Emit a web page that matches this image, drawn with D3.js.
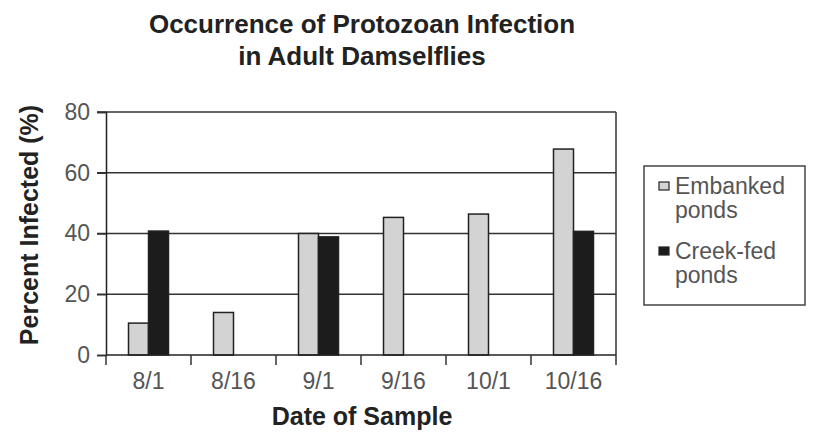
<!DOCTYPE html>
<html>
<head>
<meta charset="utf-8">
<script src="https://cdn.jsdelivr.net/npm/d3@7"></script>
<style>
  body { margin: 0; background: #fff; }
  svg text { font-family: "Liberation Sans", Arial, Helvetica, sans-serif; }
</style>
</head>
<body>
<div id="chart"></div>
<script>
'use strict';

// data
const dates = ['8/1', '8/16', '9/1', '9/16', '10/1', '10/16']
const embanked = [10.5, 14, 40, 45.3, 46.4, 67.8]
const creek_fed = [40.8, null, 38.9, null, null, 40.7]
const y_ticks = [0, 20, 40, 60, 80]
const series_names = ['Embanked ponds', 'Creek-fed ponds']

const dimensions = {
  width: 815,
  height: 440,
  margin: { top: 112, bottom: 85, left: 106, right: 199 }
}
dimensions.ctrWidth = dimensions.width - dimensions.margin.left - dimensions.margin.right
dimensions.ctrHeight = dimensions.height - dimensions.margin.top - dimensions.margin.bottom

const svg = d3.select('#chart')
  .append('svg')
  .attr('width', dimensions.width)
  .attr('height', dimensions.height)

// title
svg.append('text')
  .attr('x', 362)
  .attr('y', 33)
  .attr('text-anchor', 'middle')
  .style('font-weight', 'bold')
  .style('font-size', '26px')
  .attr('fill', '#222')
  .text('Occurrence of Protozoan Infection')
svg.append('text')
  .attr('x', 362)
  .attr('y', 65)
  .attr('text-anchor', 'middle')
  .style('font-weight', 'bold')
  .style('font-size', '26px')
  .attr('fill', '#222')
  .text('in Adult Damselflies')

const ctr = svg.append('g')
  .attr('transform', `translate(${dimensions.margin.left}, ${dimensions.margin.top})`)

// scales
const xScale = d3.scaleBand()
  .domain(dates)
  .range([0, dimensions.ctrWidth])
const yScale = d3.scaleLinear()
  .domain([0, 80])
  .range([dimensions.ctrHeight, 0])
const barW = 20
const subScale = d3.scaleBand()
  .domain(['emb', 'creek'])
  .range([xScale.bandwidth() / 2 - barW, xScale.bandwidth() / 2 + barW])

// gridlines + y ticks (ticks stick out left of the axis)
ctr.append('g')
  .selectAll('line')
  .data(y_ticks.filter(d => d > 0))
  .join('line')
  .attr('x1', -9)
  .attr('x2', dimensions.ctrWidth)
  .attr('y1', d => yScale(d))
  .attr('y2', d => yScale(d))
  .attr('stroke', '#333')
  .attr('stroke-width', 1.5)

// bars
const rows = dates.map((d, i) => ({ date: d, emb: embanked[i], creek: creek_fed[i] }))
const groups = ctr.append('g')
  .selectAll('g')
  .data(rows)
  .join('g')
  .attr('transform', d => `translate(${xScale(d.date)}, 0)`)

groups.selectAll('rect')
  .data(d => [{ key: 'emb', v: d.emb }, { key: 'creek', v: d.creek }].filter(e => e.v !== null))
  .join('rect')
  .attr('x', d => subScale(d.key))
  .attr('y', d => yScale(d.v))
  .attr('width', subScale.bandwidth())
  .attr('height', d => dimensions.ctrHeight - yScale(d.v))
  .attr('fill', d => d.key === 'emb' ? '#d3d3d3' : '#1c1c1c')
  .attr('stroke', '#222')
  .attr('stroke-width', 1.5)

// y axis
const yAxis = d3.axisLeft(yScale)
  .tickValues(y_ticks)
  .tickSize(9)
  .tickPadding(7)
const yAxisGroup = ctr.append('g').call(yAxis)
yAxisGroup.select('.domain').attr('stroke', '#222').attr('stroke-width', 1.5)
yAxisGroup.selectAll('.tick line').attr('stroke', '#333').attr('stroke-width', 1.5)
yAxisGroup.selectAll('.tick text')
  .style('font-size', '23px')
  .style('font-family', '"Liberation Sans", Arial, sans-serif')
  .attr('fill', '#555')

// x axis: ticks at band edges, labels at centers
const xAxisGroup = ctr.append('g')
  .attr('transform', `translate(0, ${dimensions.ctrHeight})`)
xAxisGroup.append('line')
  .attr('x1', 0)
  .attr('x2', dimensions.ctrWidth)
  .attr('stroke', '#222')
  .attr('stroke-width', 1.5)
xAxisGroup.selectAll('.edge')
  .data(dates.concat(['end']))
  .join('line')
  .attr('class', 'edge')
  .attr('x1', (d, i) => i < dates.length ? xScale(d) : dimensions.ctrWidth)
  .attr('x2', (d, i) => i < dates.length ? xScale(d) : dimensions.ctrWidth)
  .attr('y1', 0)
  .attr('y2', 10)
  .attr('stroke', '#333')
  .attr('stroke-width', 1.5)
xAxisGroup.selectAll('.lbl')
  .data(dates)
  .join('text')
  .attr('class', 'lbl')
  .attr('x', d => xScale(d) + xScale.bandwidth() / 2)
  .attr('y', 34)
  .attr('text-anchor', 'middle')
  .style('font-size', '23px')
  .attr('fill', '#555')
  .text(d => d)

// right border
ctr.append('line')
  .attr('x1', dimensions.ctrWidth)
  .attr('x2', dimensions.ctrWidth)
  .attr('y1', 0)
  .attr('y2', dimensions.ctrHeight)
  .attr('stroke', '#333')
  .attr('stroke-width', 1.5)

// axis titles
svg.append('text')
  .attr('x', 362)
  .attr('y', 425)
  .attr('text-anchor', 'middle')
  .style('font-weight', 'bold')
  .style('font-size', '25px')
  .attr('fill', '#222')
  .text('Date of Sample')
svg.append('text')
  .attr('transform', 'translate(38, 225) rotate(-90)')
  .attr('text-anchor', 'middle')
  .style('font-weight', 'bold')
  .style('font-size', '25px')
  .attr('fill', '#222')
  .text('Percent Infected (%)')

// legend
const legend = svg.append('g')
legend.append('rect')
  .attr('x', 644)
  .attr('y', 166)
  .attr('width', 161)
  .attr('height', 139)
  .attr('fill', 'none')
  .attr('stroke', '#444')
  .attr('stroke-width', 1.5)
const legendItems = legend.selectAll('.item')
  .data(series_names)
  .join('g')
  .attr('class', 'item')
  .attr('transform', (d, i) => `translate(0, ${194 + i * 65})`)
legendItems.append('rect')
  .attr('x', 659)
  .attr('y', -12)
  .attr('width', 10)
  .attr('height', 8)
  .attr('fill', (d, i) => i === 0 ? '#d3d3d3' : '#1c1c1c')
  .attr('stroke', '#222')
  .attr('stroke-width', 1.2)
legendItems.each(function(d){
  const words = d.split(' ')
  const t = d3.select(this).append('text')
    .attr('x', 675)
    .attr('y', 0)
    .style('font-size', '23px')
    .attr('fill', '#555')
  t.append('tspan').attr('x', 675).attr('dy', 0).text(words[0])
  t.append('tspan').attr('x', 675).attr('dy', 24).text(words[1])
})
</script>
</body>
</html>
